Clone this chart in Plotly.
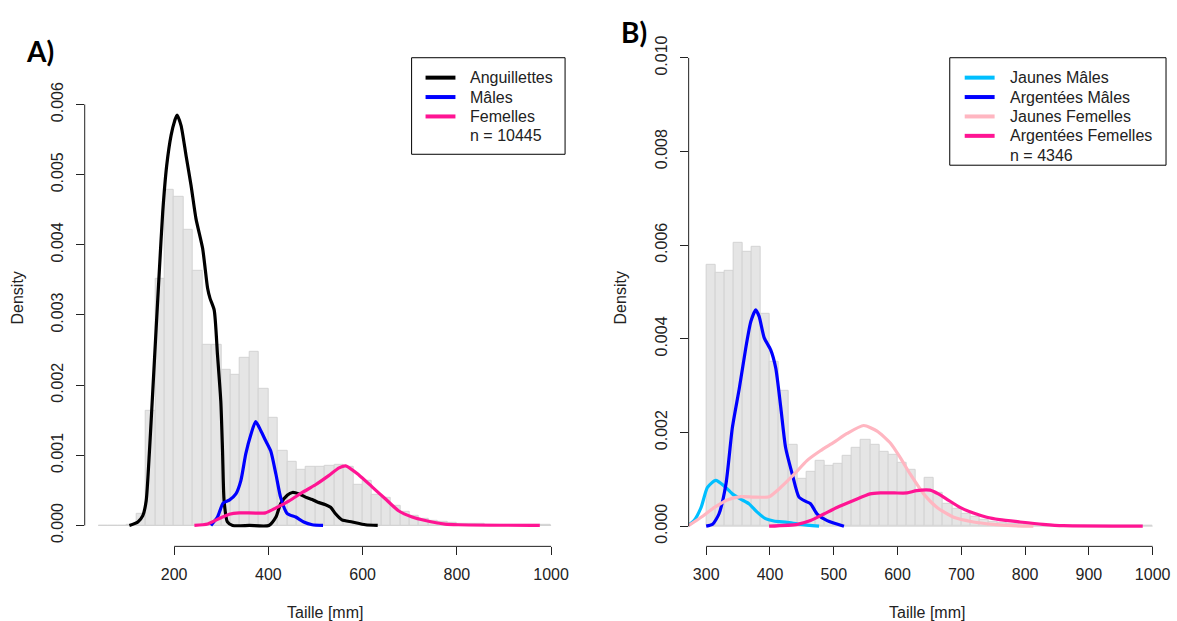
import plotly.graph_objects as go

W, H = 1177, 621

# ---------------- Panel A data ----------------
a_bin_start = 40
a_bin_width = 20
a_hist = [0, 0, 0, 0.00001, 0.00017, 0.00163, 0.00352, 0.00479, 0.00469, 0.00421,
          0.00363, 0.00257, 0.00258, 0.00222, 0.00214, 0.00239, 0.00248, 0.00195, 0.00153, 0.00107,
          0.00091, 0.00080, 0.00083, 0.00083, 0.00085, 0.00086, 0.00083, 0.00058, 0.00064, 0.00044,
          0.00040, 0.00028, 0.00019, 0.00014, 0.00010, 0.00007, 0.00005, 0.00004, 0.00003, 0.00002,
          0.00002, 0.00001, 0.00001, 0.00001, 0.000005, 0.000005, 0.000003, 0.000003]

ang_x = [105, 123, 133.5, 140.6, 147.6, 154.6, 161.8, 168.8, 175.8, 184.2, 193.5, 201.2, 206.2,
         214.7, 225.3, 235.8, 246.4, 260.4, 271, 276, 285, 292, 299, 302.7, 306, 313, 324,
         360, 401, 416, 426, 440, 451, 465, 480, 493, 505, 520, 532, 542, 556, 578, 606, 632]
ang_y = [0, 0.00005, 0.00014, 0.00035, 0.00106, 0.00191, 0.00281, 0.00366, 0.00447, 0.00513, 0.00556, 0.00577, 0.00585,
         0.00570, 0.00527, 0.00485, 0.00437, 0.00395, 0.00338, 0.00324, 0.00307, 0.00243, 0.00177, 0.00106, 0.00035, 0.00005, 0,
         0, 0, 0.00012, 0.00031, 0.00043, 0.00047, 0.00045, 0.00040, 0.00037, 0.00033, 0.00030, 0.00026, 0.00017, 0.00008, 0.00005, 0.00001, 0]

males_x = [278, 292, 304, 317, 331, 341.6, 352, 363, 373, 384, 394, 405, 416, 426, 440, 458, 475, 493, 516]
males_y = [0, 0.00012, 0.00032, 0.00036, 0.00045, 0.00064, 0.00102, 0.00130, 0.00148, 0.00135, 0.00121, 0.00106, 0.00073,
           0.00040, 0.00017, 0.00012, 0.00005, 0.00001, 0]

fem_x = [243, 271, 296, 317, 338, 394, 416, 444, 472, 500, 528, 550, 564, 592, 620, 648, 676, 705, 733, 775, 803, 976]
fem_y = [0, 0.00002, 0.00010, 0.00016, 0.00018, 0.00018, 0.00025, 0.00035, 0.00047, 0.00058, 0.00071, 0.00082, 0.00085,
         0.00072, 0.00055, 0.00038, 0.00021, 0.00012, 0.00007, 0.00002, 0.00001, 0]

# ---------------- Panel B data ----------------
b_bin_start = 300
b_bin_end = 1000
b_hist = [0.00559, 0.00542, 0.00545, 0.00605, 0.00586, 0.00597, 0.00454, 0.00350, 0.00290, 0.00174,
          0.00102, 0.00116, 0.00140, 0.00128, 0.00134, 0.00150, 0.00168, 0.00184, 0.00174, 0.00159,
          0.00152, 0.00136, 0.00120, 0.00078, 0.00104, 0.00072, 0.00048, 0.00037, 0.00026, 0.00019,
          0.00014, 0.00010, 0.00007, 0.00005, 0.00004, 0.00003, 0.00002, 0.00002, 0.00001, 0.00001,
          0.000005, 0.000005, 0.000005, 0.000003, 0.000003, 0.000003, 0.000002, 0.000002, 0.000002]

jm_x = [271, 281, 292, 302, 315, 328, 341, 354, 367, 380, 393, 406, 427, 448, 477]
jm_y = [0.00001, 0.00012, 0.00040, 0.00083, 0.00098, 0.00086, 0.00069, 0.00058, 0.00048, 0.00030, 0.00016,
        0.00011, 0.00008, 0.00004, 0]

am_x = [300, 310, 320, 331, 341, 352, 362, 370, 377.7, 383, 391, 401, 409, 417, 424.5, 435, 445.5, 456, 463.6,
        474, 489.7, 516]
am_y = [0, 0.00004, 0.00026, 0.00090, 0.00210, 0.00295, 0.00380, 0.00437, 0.00462, 0.00448, 0.00402, 0.00377,
        0.00338, 0.00253, 0.00168, 0.00111, 0.00062, 0.00053, 0.00048, 0.00026, 0.00012, 0]

jf_x = [271, 292, 313, 333, 354, 375, 398.6, 417, 438, 458, 479, 500, 521, 547, 568, 589, 604, 620, 641, 662,
        688, 719, 750, 781, 813]
jf_y = [0, 0.00019, 0.00040, 0.00056, 0.00063, 0.00062, 0.00063, 0.00083, 0.00111, 0.00140, 0.00161, 0.00179,
        0.00198, 0.00215, 0.00203, 0.00177, 0.00147, 0.00111, 0.00069, 0.00040, 0.00019, 0.00009, 0.00004, 0.00001, 0]

af_x = [398.6, 443, 463.6, 484.5, 505, 531, 557, 573, 595, 615, 630, 651, 664, 677, 698, 719, 740, 760, 792,
        828, 860, 984.5]
af_y = [0, 0.00004, 0.00012, 0.00026, 0.00040, 0.00055, 0.00069, 0.00071, 0.00071, 0.00071, 0.00076, 0.00077,
        0.00069, 0.00058, 0.00040, 0.00028, 0.00019, 0.00014, 0.00009, 0.00004, 0.00001, 0]

# ticks / labels
a_xticks = [200, 400, 600, 800, 1000]
a_yticks = [0, 0.001, 0.002, 0.003, 0.004, 0.005, 0.006]
b_xticks = [300, 400, 500, 600, 700, 800, 900, 1000]
b_yticks = [0, 0.002, 0.004, 0.006, 0.008, 0.010]

a_legend = ["Anguillettes", "Mâles", "Femelles"]
a_colors = ["#000000", "#0000FF", "#FF1493"]
a_n = "n = 10445"
b_legend = ["Jaunes Mâles", "Argentées Mâles", "Jaunes Femelles", "Argentées Femelles"]
b_colors = ["#00BFFF", "#0000FF", "#FFB6C1", "#FF1493"]
b_n = "n = 4346"

# ---------------- layout helpers (pixels -> paper) ----------------
def px(x):
    return x / W

def py(y):
    return 1 - y / H

FONT = "Liberation Sans, Arial, sans-serif"
HIST_FILL = "#E5E5E5"
HIST_LINE = "#D3D3D3"
LW = 3.2

fig = go.Figure()

# Panel A histogram
a_nb = len(a_hist)
a_centers = [a_bin_start + a_bin_width * (i + 0.5) for i in range(a_nb)]
a_edges = [a_bin_start, a_bin_start + a_bin_width * a_nb]
fig.add_trace(go.Scatter(x=a_edges, y=[0, 0], mode="lines", line=dict(color=HIST_LINE, width=1),
                         showlegend=False, hoverinfo="skip", xaxis="x", yaxis="y"))
fig.add_trace(go.Bar(x=a_centers, y=a_hist, width=a_bin_width,
                     marker=dict(color=HIST_FILL, line=dict(color=HIST_LINE, width=1)),
                     showlegend=False, xaxis="x", yaxis="y"))
for xs, ys, c in zip([ang_x, males_x, fem_x], [ang_y, males_y, fem_y], a_colors):
    fig.add_trace(go.Scatter(x=xs, y=ys, mode="lines", line=dict(color=c, width=LW, shape="spline", smoothing=0.6),
                             showlegend=False, xaxis="x", yaxis="y"))

# Panel B histogram
b_nb = len(b_hist)
b_w = (b_bin_end - b_bin_start) / b_nb
b_centers = [b_bin_start + b_w * (i + 0.5) for i in range(b_nb)]
fig.add_trace(go.Scatter(x=[b_bin_start, b_bin_end], y=[0, 0], mode="lines", line=dict(color=HIST_LINE, width=1),
                         showlegend=False, hoverinfo="skip", xaxis="x2", yaxis="y2"))
fig.add_trace(go.Bar(x=b_centers, y=b_hist, width=b_w,
                     marker=dict(color=HIST_FILL, line=dict(color=HIST_LINE, width=1)),
                     showlegend=False, xaxis="x2", yaxis="y2"))
for xs, ys, c in zip([jm_x, am_x, jf_x, af_x], [jm_y, am_y, jf_y, af_y], b_colors):
    fig.add_trace(go.Scatter(x=xs, y=ys, mode="lines", line=dict(color=c, width=LW, shape="spline", smoothing=0.6),
                             showlegend=False, xaxis="x2", yaxis="y2"))

# plot regions in pixels
A_L, A_R, B_L, B_R, TOP, BOT = 85, 567, 691, 1170, 36, 546

axis_common = dict(showgrid=False, zeroline=False, showline=False, ticks="outside", ticklen=8,
                   tickwidth=1, tickcolor="#222", tickfont=dict(family=FONT, size=16, color="#222"))

fig.update_layout(
    width=W, height=H, margin=dict(l=0, r=0, t=0, b=0),
    plot_bgcolor="white", paper_bgcolor="white", bargap=0, barmode="overlay",
    showlegend=False,
    xaxis=dict(domain=[px(A_L), px(A_R)], range=[10.2, 1029.6], tickvals=a_xticks,
               ticklabelstandoff=5, anchor="y", **axis_common),
    yaxis=dict(domain=[py(BOT), py(TOP)], range=[-0.000298, 0.006936], tickvals=a_yticks, tickformat=".3f",
               tickangle=-90, ticklabelstandoff=6, anchor="x", **axis_common),
    xaxis2=dict(domain=[px(B_L), px(B_R)], range=[272.5, 1021], tickvals=b_xticks,
                ticklabelstandoff=5, anchor="y2", **axis_common),
    yaxis2=dict(domain=[py(BOT), py(TOP)], range=[-0.000431, 0.010408], tickvals=b_yticks, tickformat=".3f",
                tickangle=-90, ticklabelstandoff=6, anchor="x2", **axis_common),
)

shapes = []
annotations = []
# axis lines (R style: only from first to last tick)
for xa, ya, xt, yt in [("x", "y", a_xticks, a_yticks), ("x2", "y2", b_xticks, b_yticks)]:
    shapes.append(dict(type="line", xref=xa, yref=ya + " domain", x0=xt[0], x1=xt[-1], y0=0, y1=0,
                       line=dict(color="#222", width=1)))
    shapes.append(dict(type="line", xref=xa + " domain", yref=ya, x0=0, x1=0, y0=yt[0], y1=yt[-1],
                       line=dict(color="#222", width=1)))

def label(text, x, y, size=16, family=FONT, angle=0, xanchor="center", color="#222"):
    annotations.append(dict(text=text, x=px(x), y=py(y), xref="paper", yref="paper", showarrow=False,
                            xanchor=xanchor, yanchor="middle", textangle=angle,
                            font=dict(family=family, size=size, color=color)))

# axis titles
for cx in [(A_L + A_R) / 2, (B_L + B_R) / 2]:
    label("Taille [mm]", cx, 612)
for cx in [18, 623]:
    label("Density", cx, 296, angle=-90)

# panel letters
label("<b>A)</b>", 40, 48, size=28, family="Lato, Open Sans, sans-serif", color="black")
label("<b>B)</b>", 636, 29, size=28, family="Lato, Open Sans, sans-serif", color="black")

# manual legends (R style)
def add_legend(box, labels, colors, n_text, line_x, text_x, row_ys):
    x0, y0, x1, y1 = box
    shapes.append(dict(type="rect", xref="paper", yref="paper", x0=px(x0), x1=px(x1), y0=py(y1), y1=py(y0),
                       line=dict(color="black", width=1), fillcolor="white", layer="above"))
    for col, ry in zip(colors, row_ys):
        shapes.append(dict(type="line", xref="paper", yref="paper", x0=px(line_x[0]), x1=px(line_x[1]),
                           y0=py(ry), y1=py(ry), line=dict(color=col, width=4), layer="above"))
    for lab, ry in zip(labels + [n_text], row_ys):
        label(lab, text_x, ry, xanchor="left")

add_legend((413, 55, 567, 152), a_legend, a_colors, a_n, (427, 457), 470, [75, 94.5, 114, 133.5])
add_legend((953, 55, 1170, 163), b_legend, b_colors, b_n, (968, 998), 1011, [75, 94.5, 114, 133.5, 153])

fig.update_layout(shapes=shapes, annotations=annotations)

fig.write_html("out.html", config={"displayModeBar": False},
               post_script="document.body.style.margin='0px';")
